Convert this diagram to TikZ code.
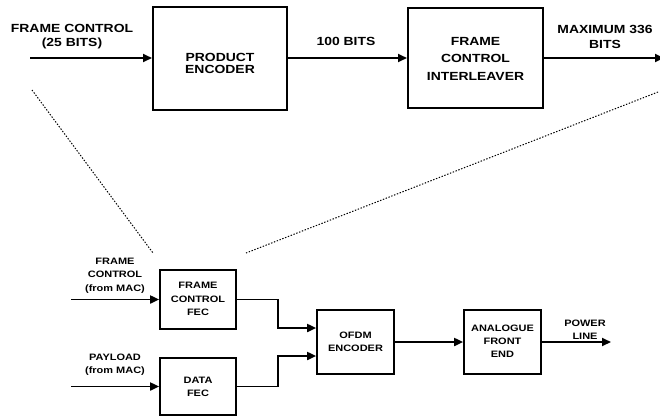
\documentclass[tikz,border=0pt]{standalone}
\usepackage{fontspec}
\setmainfont{Liberation Sans}[FakeStretch=1.18]
\usetikzlibrary{arrows.meta}
\begin{document}
\begin{tikzpicture}[x=1pt,y=-1pt,
  every node/.style={inner sep=0pt, align=center},
  bigbox/.style={draw, line width=2pt},
  smallbox/.style={draw, line width=1.7pt, minimum width=76pt},
  toptxt/.style={font=\fontsize{11.8}{15}\selectfont\bfseries},
  bottxt/.style={font=\fontsize{9.3}{13.3}\selectfont\bfseries},
  arr/.style={line width=1.8pt, -{Triangle[length=9pt,width=8pt]}},
  dots/.style={line width=1pt, dash pattern=on 1.4pt off 1.6pt}]
\useasboundingbox (0,0) rectangle (660,416);
% top row
\node[bigbox, minimum width=134pt, minimum height=103pt] (pe) at (220,58.5) {};
\node[toptxt, font=\fontsize{11.8}{12.3}\selectfont\bfseries] (pet) at (220,63.5) {PRODUCT\\ENCODER};
\node[bigbox, minimum width=135pt, minimum height=100pt] (il) at (475.5,58) {};
\node[toptxt, font=\fontsize{11.8}{17.5}\selectfont\bfseries] (ilt) at (475.5,58.5) {FRAME\\CONTROL\\INTERLEAVER};
\coordinate (fcin) at (30,58);
\coordinate (maxout) at (664,58);
\draw[arr] (fcin) -- (pe.west |- fcin);
\draw[arr] (pe.east |- fcin) -- (il.west |- fcin);
\draw[arr] (il.east |- fcin) -- (maxout);
\node[toptxt, font=\fontsize{11.8}{14}\selectfont\bfseries] (fcl) at (72,37) {FRAME CONTROL\\(25 BITS)};
\node[toptxt] (hb) at (346,41) {100 BITS};
\node[toptxt] (mx) at (605,37) {MAXIMUM 336\\BITS};
% dotted zoom lines
\coordinate (d1a) at (32,90);
\coordinate (d1b) at (153,253);
\coordinate (d2a) at (658,92);
\coordinate (d2b) at (246,253);
\draw[dots] (d1a) -- (d1b);
\draw[dots] (d2a) -- (d2b);
% bottom row
\node[smallbox, minimum height=59pt] (fcfec) at (198,299.5) {};
\node[bottxt] (fcfect) at (198,299) {FRAME\\CONTROL\\FEC};
\node[smallbox, minimum height=57pt] (dfec) at (198,386.5) {};
\node[bottxt, font=\fontsize{9.3}{12.5}\selectfont\bfseries] (dfect) at (198,386.7) {DATA\\FEC};
\node[smallbox, minimum width=77pt, minimum height=64pt] (ofdm) at (355.5,342) {};
\node[bottxt, font=\fontsize{9.3}{12.5}\selectfont\bfseries] (ofdmt) at (355.5,342) {OFDM\\ENCODER};
\node[smallbox, minimum width=77pt, minimum height=64pt] (afe) at (502.5,342) {};
\node[bottxt, font=\fontsize{9.3}{13}\selectfont\bfseries] (afet) at (502.5,341.3) {ANALOGUE\\FRONT\\END};
\coordinate (fcmac) at (71,299.5);
\coordinate (pmac) at (71,386.5);
\coordinate (pl) at (611,342);
\draw[arr] (fcmac) -- (fcfec.west);
\draw[arr] (pmac) -- (dfec.west);
\draw[arr] (fcfec.east) -- ++(41,0) |- ([yshift=14pt]ofdm.west);
\draw[arr] (dfec.east) -- ++(41,0) |- ([yshift=-14pt]ofdm.west);
\draw[arr] (ofdm.east) -- (afe.west);
\draw[arr] (afe.east) -- (pl);
\node[bottxt] (fcml) at (115,275.5) {FRAME\\CONTROL\\(from MAC)};
\node[bottxt] (pml) at (115,364.5) {PAYLOAD\\(from MAC)};
\node[bottxt] (pll) at (585,330) {POWER\\LINE};
\end{tikzpicture}
\end{document}
